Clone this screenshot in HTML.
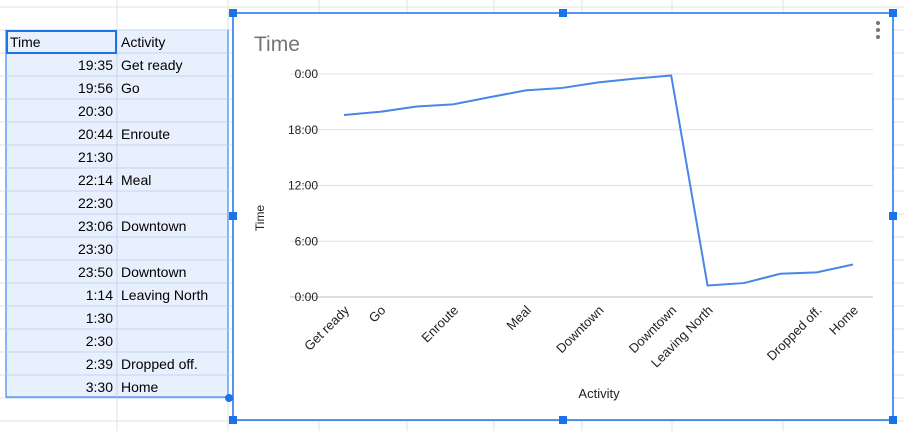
<!DOCTYPE html>
<html><head><meta charset="utf-8"><style>
body{margin:0;width:904px;height:431px;background:#fff;overflow:hidden;font-family:"Liberation Sans",Arial,sans-serif;position:relative}
svg{position:absolute;left:0;top:0}
</style></head><body>
<svg width="904" height="431" id="s">
<g id="grid"></g>
<rect x="6" y="30" width="222" height="367" fill="#e8f0fe" stroke="#1a73e8" stroke-width="1"/>
<g id="table"></g>
<rect x="7" y="31" width="109" height="22" fill="none" stroke="#1a73e8" stroke-width="2"/>
<circle cx="229" cy="398" r="4" fill="#1a73e8"/>
<rect x="233" y="13" width="660" height="407" fill="#fff" stroke="#1a73e8" stroke-width="1.5"/>
<text x="254" y="51" font-size="21" fill="#757575">Time</text>
<g fill="#757575"><circle cx="878" cy="23" r="2"/><circle cx="878" cy="30" r="2"/><circle cx="878" cy="37" r="2"/></g>
<g id="chart"></g>
<text x="599" y="398" font-size="13" text-anchor="middle" fill="#222">Activity</text>
<text transform="translate(264,218) rotate(-90)" font-size="12" text-anchor="middle" fill="#222">Time</text>
<g id="handles"></g>
</svg>
<script>
const times=["19:35","19:56","20:30","20:44","21:30","22:14","22:30","23:06","23:30","23:50","1:14","1:30","2:30","2:39","3:30"];
const activities=["Get ready","Go","","Enroute","","Meal","","Downtown","","Downtown","Leaving North","","","Dropped off.","Home"];
const yTicks=[0,6,12,18,24];
const yTickLabels=["0:00","6:00","12:00","18:00","0:00"];
const NS="http://www.w3.org/2000/svg";
function mk(t,a,p){const e=document.createElementNS(NS,t);for(const k in a)e.setAttribute(k,a[k]);p.appendChild(e);return e;}
const grid=document.getElementById('grid');
[117,228,319,407,494,582,672,783].forEach(x=>{const l=mk('line',{x1:x,x2:x,y1:0,y2:431,stroke:'#e2e2e2'},grid);});
for(let y=7;y<431;y+=23){const l=mk('line',{x1:0,x2:904,y1:y,y2:y,stroke:'#e2e2e2'},grid);}
const tb=document.getElementById('table');
function cellTxt(x,y,s,anchor){const t=mk('text',{x:x,y:y,'font-size':14,fill:'#000','text-anchor':anchor},tb);t.textContent=s;}
for(let i=0;i<=16;i++){const y=30+i*23;const l=mk('line',{x1:6,x2:228,y1:y,y2:y,stroke:'#c6d4ee'},tb);}
const vl=mk('line',{x1:117,x2:117,y1:30,y2:397,stroke:'#c6d4ee'},tb);
cellTxt(10,47,'Time','start');cellTxt(121,47,'Activity','start');
times.forEach((t,i)=>{const y=70+i*23;cellTxt(113,y,t,'end');if(activities[i])cellTxt(121,y,activities[i],'start');});
const ch=document.getElementById('chart');
const x0=344,dx=(853-344)/14,yb=297,yt=74;
const X=i=>x0+i*dx, Y=v=>yb-(v/24)*(yb-yt);
const toH=s=>{const[p,q]=s.split(':').map(Number);return p+q/60;};
yTicks.forEach((v,i)=>{const l=mk('line',{x1:290,x2:873,y1:Y(v),y2:Y(v),stroke:i==0?'#bdbdbd':'#e0e0e0'},ch);
const t=mk('text',{x:318,y:Y(v)+4,'font-size':12,'text-anchor':'end',fill:'#222'},ch);t.textContent=yTickLabels[i];});
const pts=times.map((t,i)=>X(i)+','+Y(toH(t))).join(' ');
const pl=mk('polyline',{points:pts,fill:'none',stroke:'#4a86e8','stroke-width':2,'stroke-linejoin':'round'},ch);

activities.forEach((a,i)=>{if(!a)return;const t=mk('text',{transform:`translate(${X(i)+6},${yb+14}) rotate(-45)`,'font-size':13,'text-anchor':'end',fill:'#222'},ch);t.textContent=a;});
const hg=document.getElementById('handles');
[[233,13],[563,13],[893,13],[233,216],[893,216],[233,420],[563,420],[893,420]].forEach(p=>{const r=mk('rect',{x:p[0]-4,y:p[1]-4,width:8,height:8,fill:'#1a73e8'},hg);});
</script>
</body></html>
